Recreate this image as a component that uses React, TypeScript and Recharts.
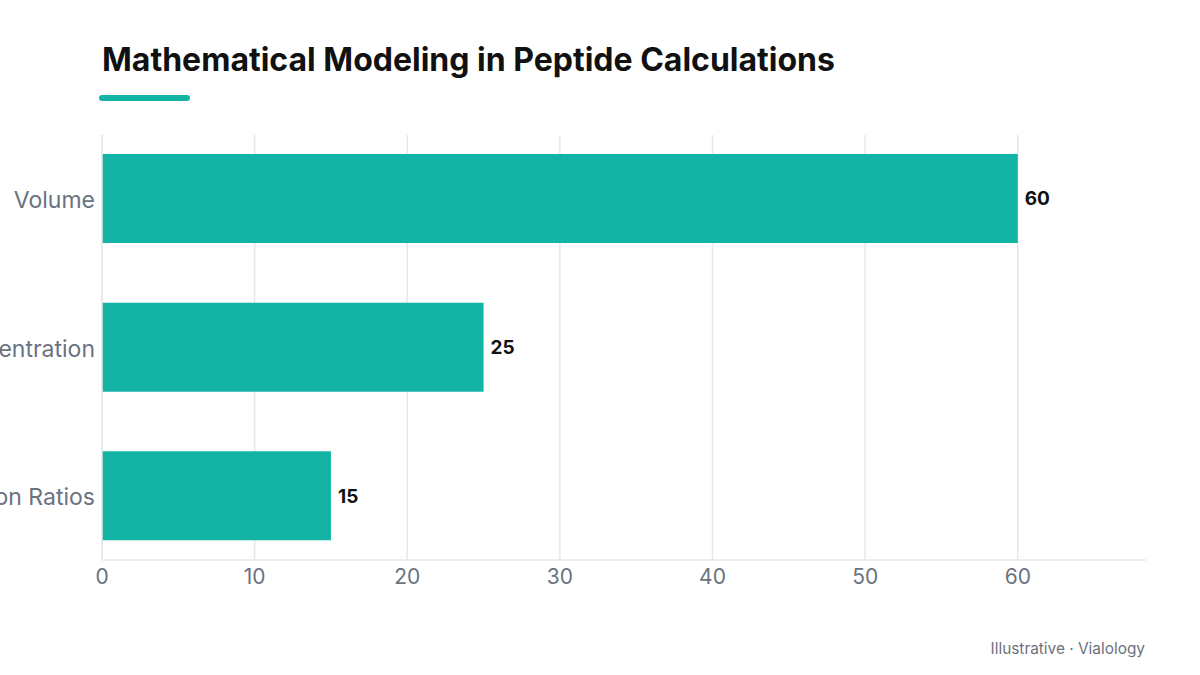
import React from "react";
import {
  BarChart,
  Bar,
  XAxis,
  YAxis,
  CartesianGrid,
  LabelList,
} from "recharts";

// Chart content
const categories = ["Volume", "Concentration", "Dilution Ratios"];
const values = [60, 25, 15];
const xTicks = [0, 10, 20, 30, 40, 50, 60];

const TEAL = "#13B4A6";
const GRID = "#E5E9EB";
const MUTED = "#6B7280";
const FONT = "Inter, 'DejaVu Sans', sans-serif";

const data = categories.map((name, i) => ({ name, value: values[i] }));

export default function App() {
  return (
    <div
      style={{
        position: "absolute",
        left: 0,
        top: 0,
        width: 1200,
        height: 675,
        background: "#fff",
        fontFamily: FONT,
        overflow: "hidden",
      }}
    >
      <div
        style={{
          position: "absolute",
          left: 102,
          top: 40,
          fontSize: 32,
          fontWeight: 700,
          color: "#111111",
          whiteSpace: "nowrap",
          lineHeight: "40px",
        }}
      >
        Mathematical Modeling in Peptide Calculations
      </div>
      <div
        style={{
          position: "absolute",
          left: 99,
          top: 95,
          width: 91,
          height: 6,
          borderRadius: 3,
          background: TEAL,
        }}
      />
      <div style={{ position: "absolute", left: 0, top: 0 }}>
        <BarChart
          width={1200}
          height={675}
          data={data}
          layout="vertical"
          margin={{ top: 135, right: 54, bottom: 85, left: 0 }}
        >
          <CartesianGrid
            horizontal={false}
            verticalValues={xTicks}
            stroke={GRID}
            strokeWidth={1.5}
          />
          <XAxis
            type="number"
            domain={[0, 68.4]}
            ticks={xTicks}
            interval={0}
            height={30}
            axisLine={{ stroke: GRID, strokeWidth: 1.5 }}
            tickLine={false}
            tickSize={0}
            tickMargin={9}
            tick={{ fill: MUTED, fontSize: 21, fontFamily: FONT }}
          />
          <YAxis
            type="category"
            dataKey="name"
            width={102}
            padding={{ top: -11, bottom: -10 }}
            axisLine={{ stroke: GRID, strokeWidth: 1.5 }}
            tickLine={false}
            tickSize={0}
            tickMargin={7}
            tick={{ fill: MUTED, fontSize: 23, fontFamily: FONT, dy: 1.5 }}
          />
          <Bar dataKey="value" fill={TEAL} barSize={89} isAnimationActive={false}>
            <LabelList
              dataKey="value"
              position="right"
              offset={7}
              fill="#111111"
              fontSize={19}
              fontWeight={700}
              fontFamily={FONT}
            />
          </Bar>
        </BarChart>
      </div>
      <div
        style={{
          position: "absolute",
          right: 55,
          top: 639,
          fontSize: 15.4,
          color: MUTED,
          whiteSpace: "nowrap",
        }}
      >
        Illustrative · Vialology
      </div>
    </div>
  );
}
